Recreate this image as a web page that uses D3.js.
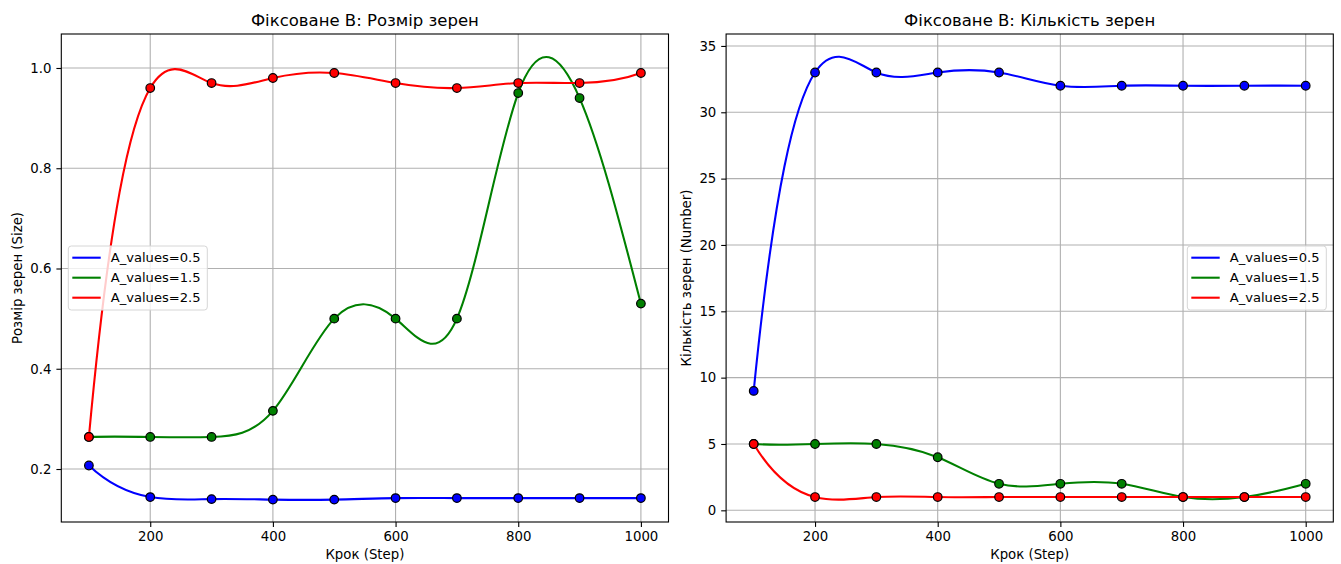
<!DOCTYPE html>
<html>
<head>
<meta charset="utf-8">
<script src="https://cdn.jsdelivr.net/npm/d3@7"></script>
<style>
  html, body { margin: 0; padding: 0; background: #fff; }
  svg { display: block; }
  text { font-family: "DejaVu Sans", sans-serif; fill: #000; }
</style>
</head>
<body>
<svg id="chart" width="1341" height="564"></svg>
<script>
// ---------------- data ----------------
const steps = [100, 200, 300, 400, 500, 600, 700, 800, 900, 1000];
const seriesLabels = ["A_values=0.5", "A_values=1.5", "A_values=2.5"];
const seriesColors = ["#0000ff", "#008000", "#ff0000"];

// Left panel: grain size
const sizeA05 = [0.207, 0.144, 0.140, 0.139, 0.139, 0.142, 0.142, 0.142, 0.142, 0.142];
const sizeA15 = [0.264, 0.264, 0.264, 0.316, 0.50, 0.50, 0.50, 0.95, 0.94, 0.53];
const sizeA25 = [0.264, 0.96, 0.97, 0.98, 0.99, 0.97, 0.96, 0.97, 0.97, 0.99];

// Right panel: grain count
const countA05 = [9, 33, 33, 33, 33, 32, 32, 32, 32, 32];
const countA15 = [5, 5, 5, 4, 2, 2, 2, 1, 1, 2];
const countA25 = [5, 1, 1, 1, 1, 1, 1, 1, 1, 1];

const xTicks = [200, 400, 600, 800, 1000];
const sizeTicks = [0.2, 0.4, 0.6, 0.8, 1.0];
const countTicks = [0, 5, 10, 15, 20, 25, 30, 35];

const titles = ["Фіксоване B: Розмір зерен", "Фіксоване B: Кількість зерен"];
const xLabel = "Крок (Step)";
const yLabels = ["Розмір зерен (Size)", "Кількість зерен (Number)"];

// ---------------- not-a-knot cubic spline curve (like scipy make_interp_spline k=3) ----------------
function NotAKnot(context) { this._context = context; }
NotAKnot.prototype = {
  areaStart() { this._line = 0; },
  areaEnd() { this._line = NaN; },
  lineStart() { this._x = []; this._y = []; },
  point(x, y) { this._x.push(+x); this._y.push(+y); },
  lineEnd() {
    const x = this._x, y = this._y, n = x.length, c = this._context;
    if (!n) return;
    c.moveTo(x[0], y[0]);
    if (n < 4) { for (let i = 1; i < n; i++) c.lineTo(x[i], y[i]); return; }
    const h = [], s = [];
    for (let i = 0; i < n - 1; i++) { h.push(x[i + 1] - x[i]); s.push((y[i + 1] - y[i]) / h[i]); }
    const A = Array.from({length: n}, () => new Array(n + 1).fill(0));
    A[0][0] = -1 / h[0]; A[0][1] = 1 / h[0] + 1 / h[1]; A[0][2] = -1 / h[1];
    for (let i = 1; i < n - 1; i++) {
      A[i][i - 1] = h[i - 1]; A[i][i] = 2 * (h[i - 1] + h[i]); A[i][i + 1] = h[i];
      A[i][n] = 6 * (s[i] - s[i - 1]);
    }
    A[n - 1][n - 3] = -1 / h[n - 3]; A[n - 1][n - 2] = 1 / h[n - 3] + 1 / h[n - 2]; A[n - 1][n - 1] = -1 / h[n - 2];
    for (let col = 0; col < n; col++) {
      let p = col;
      for (let r = col + 1; r < n; r++) if (Math.abs(A[r][col]) > Math.abs(A[p][col])) p = r;
      [A[col], A[p]] = [A[p], A[col]];
      for (let r = 0; r < n; r++) {
        if (r === col) continue;
        const f = A[r][col] / A[col][col];
        if (f) for (let k = col; k <= n; k++) A[r][k] -= f * A[col][k];
      }
    }
    const M = A.map((row, i) => row[n] / row[i]);
    for (let i = 0; i < n - 1; i++) {
      const hi = h[i];
      const d0 = s[i] - hi * (2 * M[i] + M[i + 1]) / 6;
      const d1 = s[i] + hi * (M[i] + 2 * M[i + 1]) / 6;
      c.bezierCurveTo(x[i] + hi / 3, y[i] + d0 * hi / 3,
                      x[i + 1] - hi / 3, y[i + 1] - d1 * hi / 3,
                      x[i + 1], y[i + 1]);
    }
  }
};
const curveNotAKnot = ctx => new NotAKnot(ctx);

// ---------------- layout ----------------
const svg = d3.select("#chart");
const plotTop = 34, plotBottom = 522;
const panels = [
  { left: 61.3, right: 668.5, yDomain: [0.0943, 1.0678], ticks: sizeTicks, fmt: d3.format(".1f"),
    series: [sizeA05, sizeA15, sizeA25], legend: "left", ylabOff: 39 },
  { left: 726.1, right: 1333.3, yDomain: [-0.88, 35.9], ticks: countTicks, fmt: d3.format("d"),
    series: [countA05, countA15, countA25], legend: "right", ylabOff: 35.5 }
];

panels.forEach((p, pi) => {
  const x = d3.scaleLinear().domain([55, 1045]).range([p.left, p.right]);
  const y = d3.scaleLinear().domain(p.yDomain).range([plotBottom, plotTop]);
  const g = svg.append("g");

  // grid
  g.append("g").selectAll("line").data(xTicks).join("line")
    .attr("x1", d => x(d)).attr("x2", d => x(d)).attr("y1", plotTop).attr("y2", plotBottom)
    .attr("stroke", "#b0b0b0").attr("stroke-width", 1.1);
  g.append("g").selectAll("line").data(p.ticks).join("line")
    .attr("x1", p.left).attr("x2", p.right).attr("y1", d => y(d)).attr("y2", d => y(d))
    .attr("stroke", "#b0b0b0").attr("stroke-width", 1.1);

  // axes
  const xa = g.append("g").attr("transform", `translate(0,${plotBottom})`)
    .call(d3.axisBottom(x).tickValues(xTicks).tickSize(4.9).tickPadding(4.3).tickFormat(d3.format("d")));
  const ya = g.append("g").attr("transform", `translate(${p.left},0)`)
    .call(d3.axisLeft(y).tickValues(p.ticks).tickSize(4.9).tickPadding(4.9).tickFormat(p.fmt));
  [xa, ya].forEach(a => {
    a.select(".domain").remove();
    a.selectAll("line").attr("stroke", "#000").attr("stroke-width", 1.1);
    a.selectAll("text").attr("font-family", "DejaVu Sans").attr("font-size", 13.3).attr("fill", "#000");
  });

  // clip
  const clipId = "clip" + pi;
  svg.append("clipPath").attr("id", clipId).append("rect")
    .attr("x", p.left).attr("y", plotTop).attr("width", p.right - p.left).attr("height", plotBottom - plotTop);

  const plot = g.append("g").attr("clip-path", `url(#${clipId})`);
  const line = d3.line().x((d, i) => x(steps[i])).y(d => y(d)).curve(curveNotAKnot);
  p.series.forEach((vals, si) => {
    plot.append("path").datum(vals).attr("d", line)
      .attr("fill", "none").attr("stroke", seriesColors[si]).attr("stroke-width", 2.1)
      .attr("stroke-linejoin", "round").attr("stroke-linecap", "butt");
    plot.append("g").selectAll("circle").data(vals).join("circle")
      .attr("cx", (d, i) => x(steps[i])).attr("cy", d => y(d)).attr("r", 4.3)
      .attr("fill", seriesColors[si]).attr("stroke", "#000").attr("stroke-width", 1.2);
  });

  // frame
  g.append("rect").attr("x", p.left).attr("y", plotTop).attr("width", p.right - p.left).attr("height", plotBottom - plotTop)
    .attr("fill", "none").attr("stroke", "#000").attr("stroke-width", 1.1);

  // title & labels
  const cx = (p.left + p.right) / 2;
  g.append("text").attr("x", cx).attr("y", 26).attr("text-anchor", "middle")
    .attr("font-size", 16.5).text(titles[pi]);
  g.append("text").attr("x", cx).attr("y", 559).attr("text-anchor", "middle")
    .attr("font-size", 13.3).text(xLabel);
  g.append("text").attr("transform", `translate(${p.left - p.ylabOff},${(plotTop + plotBottom) / 2}) rotate(-90)`)
    .attr("text-anchor", "middle").attr("font-size", 13.3).text(yLabels[pi]);

  // legend
  const lw = 139, lh = 64;
  const lx = p.legend === "left" ? p.left + 7 : p.right - 7 - lw;
  const ly = 246;
  const lg = g.append("g").attr("transform", `translate(${lx},${ly})`);
  lg.append("rect").attr("width", lw).attr("height", lh).attr("rx", 3)
    .attr("fill", "rgba(255,255,255,0.8)").attr("stroke", "#d6d6d6").attr("stroke-width", 1);
  seriesLabels.forEach((lab, si) => {
    const cy = 11.7 + si * 20;
    lg.append("line").attr("x1", 4).attr("x2", 32.4).attr("y1", cy).attr("y2", cy)
      .attr("stroke", seriesColors[si]).attr("stroke-width", 2.1);
    lg.append("text").attr("x", 42.4).attr("y", cy).attr("dy", "0.36em")
      .attr("font-size", 13.1).text(lab);
  });
});
</script>
</body>
</html>
